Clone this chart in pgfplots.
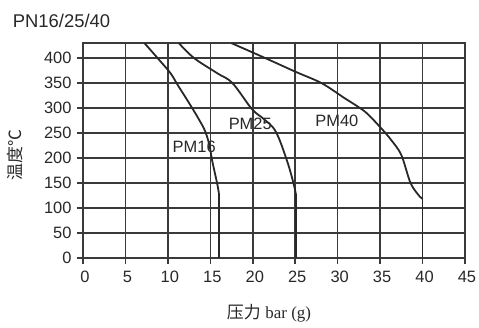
\documentclass[border=0pt]{standalone}
\usepackage{pgfplots}
\pgfplotsset{compat=1.18}
\usepackage{fontspec}
\setmainfont{Liberation Sans}
\newfontfamily\cjk{Noto Sans CJK SC}
\newfontfamily\serif{Liberation Serif}
\definecolor{gridc}{RGB}{58,58,58}
\definecolor{curvec}{RGB}{40,40,40}
\definecolor{textc}{RGB}{40,40,40}
\begin{document}
\begin{tikzpicture}
\begin{axis}[
  at={(0,0)}, anchor=south west,
  width=382bp, height=214.5bp, scale only axis,
  xmin=0, xmax=45, ymin=0, ymax=430,
  xtick={0,5,...,45}, ytick={0,50,...,400},
  grid=major,
  major grid style={draw=gridc, line width=1.6bp},
  axis line style={draw=gridc, line width=1.6bp},
  every tick/.style={draw=gridc, line width=1.6bp},
  tick align=outside, major tick length=6bp,
  tick pos=left,
  ticklabel style={font=\fontsize{16.5}{18}\selectfont, text=textc},
  xticklabel style={yshift=-4bp, xshift=2bp},
  yticklabel style={xshift=-2bp},
  /pgf/number format/assume math mode=true,
]
% PM16
\addplot[curvec, line width=1.8bp] coordinates {(16,0) (16,130)};
\addplot[curvec, line width=1.8bp, smooth, tension=0.6] coordinates {
(16,130) (15.8,149) (15.2,196) (14.9,225) (14.4,253) (13.7,276) (12.5,310) (11.2,345) (10.3,370) (9.0,396) (7.25,430)};
% PM25
\addplot[curvec, line width=1.8bp] coordinates {(25.1,0) (25.1,125)};
\addplot[curvec, line width=1.8bp, smooth, tension=0.6] coordinates {
(25.1,125) (24.8,149) (24.0,196) (22.7,253) (21.3,278) (19.9,298) (17.6,350) (15.8,370) (13.1,400) (11.3,430)};
% PM40
\addplot[curvec, line width=1.8bp] coordinates {(40,0) (40,119)};
\addplot[curvec, line width=1.8bp, smooth, tension=0.5] coordinates {
(40,119) (39.7,122) (38.6,149) (37.5,206) (36.3,236) (35.1,260) (33.2,293) (30.8,320) (28.1,350) (25.0,373) (21.1,403) (17.5,430)};
\node[text=textc, font=\fontsize{16.5}{18}\selectfont, inner sep=0pt] at (axis cs:13.1,223) {PM16};
\node[text=textc, font=\fontsize{16.5}{18}\selectfont, inner sep=0pt] at (axis cs:19.7,269) {PM25};
\node[text=textc, font=\fontsize{16.5}{18}\selectfont, inner sep=0pt] at (axis cs:29.9,275) {PM40};
\end{axis}
\node[anchor=base west, inner sep=0pt, text=textc, font=\fontsize{18.5}{20}\selectfont] at (-70.3bp,230bp) {PN16/25/40};
\node[rotate=90, inner sep=0pt, text=textc, font=\fontsize{17}{19}\selectfont] at (-68bp,103bp) {\cjk 温度℃};
\node[inner sep=0pt, text=textc, font=\fontsize{17}{19}\selectfont] at (186bp,-56bp) {{\cjk 压力} {\serif bar (g)}};
\pgfresetboundingbox
\path[use as bounding box] (-83bp,-70bp) rectangle (396bp,257.7bp);
\end{tikzpicture}
\end{document}
